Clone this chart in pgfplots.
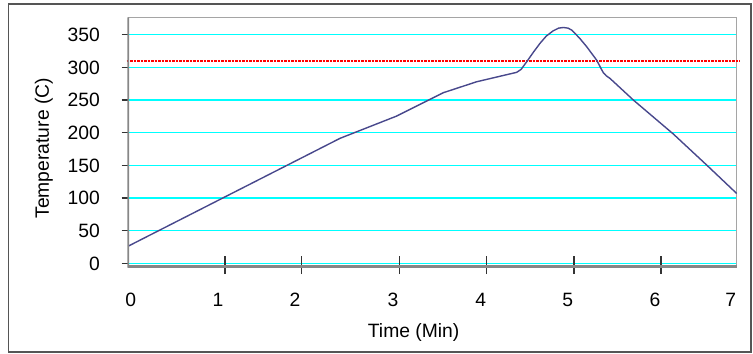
\documentclass[border=0pt]{standalone}
\usepackage{pgfplots}
\pgfplotsset{compat=1.18}
\usepackage{fontspec}
\setmainfont{Liberation Sans}
\definecolor{curve}{RGB}{72,72,140}
\definecolor{gridc}{RGB}{0,255,255}
\definecolor{frameA}{RGB}{85,85,85}
\definecolor{boxc}{RGB}{165,165,165}
\definecolor{axisc}{RGB}{135,135,135}
\begin{document}
\fontsize{19.3bp}{23bp}\selectfont
\begin{tikzpicture}
\useasboundingbox (-128.3bp,-87.3bp) rectangle (624.7bp,266.7bp);
\draw[frameA, line width=1.5bp] (-120bp,-85.3bp) rectangle (622.7bp,262.7bp);
\begin{axis}[
  at={(0,0)}, anchor=south west, scale only axis,
  width=608.4bp, height=249.4bp,
  xmin=0, xmax=7, ymin=-5, ymax=376.6,
  clip=false,
  axis line style={draw=boxc, line width=1.5bp},
  tick pos=left,
  major tick length=0pt,
  xtick={0.027,1.032,1.918,3.046,4.055,5.056,6.060,6.931},
  xticklabels={0,1,2,3,4,5,6,7},
  xticklabel style={anchor=center, inner sep=0pt, yshift=-32.8bp},
  ytick={0,50,100,150,200,250,300,350},
  yticklabel style={anchor=east, inner sep=0pt, xshift=-28.3bp},
  /pgf/number format/assume math mode=true,
  ymajorgrids,
  grid style={draw=gridc, line width=1.4bp},
  extra x ticks={1.113,1.995,3.118,4.124,5.128,6.129},
  extra x tick labels={},
  extra x tick style={major tick length=18bp, tick align=center, tick style={draw=black!80, line width=1.3bp, yshift=1.7bp}},
  extra y ticks={0,50,100,150,200,250,300,350},
  extra y tick labels={},
  extra y tick style={major tick length=6.6bp, tick align=outside, grid=none, tick style={draw=black!80, line width=1.3bp}},
  xlabel={Time (Min)}, ylabel={Temperature (C)},
  xlabel style={at={(axis description cs:0.469,-0.262)}, anchor=center},
  ylabel style={at={(axis description cs:-0.1389,0.4747)}, anchor=center},
]
\addplot[red, line width=1.5bp, dash pattern=on 2.5bp off 1bp] coordinates {(-0.02,310) (7.04,310)};
\addplot[curve, line width=1.4bp] coordinates {
(0,26.5) (2.436,191.4) (3.088,225.5) (3.624,261.2) (4.009,278) (4.469,292.4)
(4.52,297) (4.584,308.6) (4.66,323) (4.737,336.8) (4.81,348) (4.89,356)
(4.95,360) (5.005,361) (5.06,360) (5.102,357) (5.19,345) (5.274,331.6)
(5.389,311) (5.44,298) (5.465,292) (5.50,287) (5.543,283) (5.811,250)
(6.271,198) (6.655,150.5) (7.0,107)
};
\draw[axisc, line width=1.8bp] (axis description cs:0,1) -- (axis description cs:0,0) -- ++(0,-3bp);
\draw[axisc, line width=3bp] (axis description cs:0,0) -- (axis description cs:1,0);
\end{axis}
\end{tikzpicture}
\end{document}
